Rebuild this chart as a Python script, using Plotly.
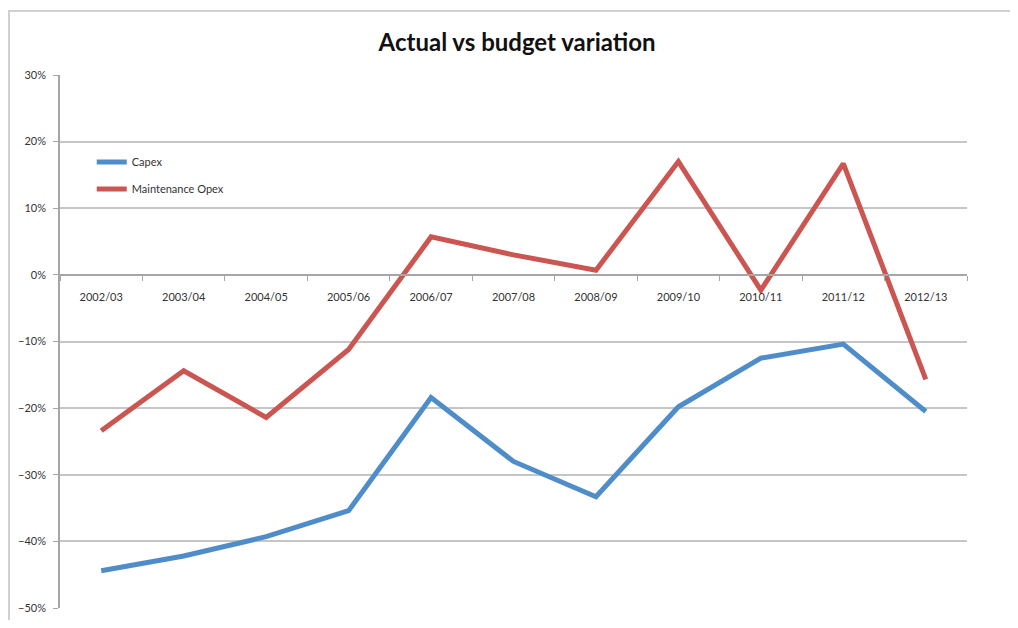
import plotly.graph_objects as go

# categories and series (fractions, shown as %)
years = ["2002/03", "2003/04", "2004/05", "2005/06", "2006/07", "2007/08",
         "2008/09", "2009/10", "2010/11", "2011/12", "2012/13"]
capex = [-0.444, -0.422, -0.393, -0.354, -0.184, -0.280,
         -0.333, -0.198, -0.125, -0.104, -0.205]
maint_opex = [-0.234, -0.144, -0.214, -0.112, 0.057, 0.030,
              0.007, 0.170, -0.023, 0.167, -0.157]

y_ticks = [-0.5, -0.4, -0.3, -0.2, -0.1, 0.0, 0.1, 0.2, 0.3]

BLUE = "#4F8DCA"
RED = "#CB5550"
GRID = "#C6C6C6"
FONT = "Lato, Liberation Sans, sans-serif"

fig = go.Figure()

fig.add_trace(go.Scatter(x=years, y=capex, name="Capex", mode="lines",
                         line=dict(color=BLUE, width=5),
                         legendgroup="a"))
fig.add_trace(go.Scatter(x=years, y=maint_opex, name="Maintenance Opex",
                         mode="lines", line=dict(color=RED, width=5),
                         legendgroup="b"))

# grey frame around the chart (runs off the page right/bottom)
fig.add_shape(type="rect", xref="paper", yref="paper",
              x0=-0.0562, x1=1.2, y0=-0.2, y1=1.12,
              line=dict(color="#D0D0D0", width=2), fillcolor="rgba(0,0,0,0)",
              layer="below")

fig.update_layout(
    width=1002, height=612,
    margin=dict(l=52, r=43, t=67, b=6),
    paper_bgcolor="white", plot_bgcolor="white",
    font=dict(family=FONT, size=11, color="#333333"),
    title=dict(text="<b>Actual vs budget variation</b>",
               x=0.504, xref="paper", xanchor="center",
               y=1 - 35 / 612, yref="container", yanchor="middle",
               font=dict(family=FONT, size=24, color="#111111")),
    showlegend=True,
    legend=dict(x=0.035, y=0.864, xanchor="left", yanchor="top",
                bgcolor="rgba(0,0,0,0)", traceorder="grouped",
                tracegroupgap=8, itemwidth=30,
                font=dict(family=FONT, size=11, color="#333333")),
    xaxis=dict(type="category", range=[-0.5, 10.5],
               anchor="free", position=0.625,
               showline=True, linecolor="#A6A6A6", linewidth=1.5,
               ticks="outside", tickson="boundaries", ticklen=5,
               tickcolor="#A6A6A6", showgrid=False,
               ticklabelstandoff=12,
               tickfont=dict(family=FONT, size=11, color="#333333")),
    yaxis=dict(range=[-0.5, 0.3], tickvals=y_ticks, tickformat=".0%",
               showline=True, linecolor="#A6A6A6", linewidth=1.5,
               ticks="outside", ticklen=5, tickcolor="#A6A6A6",
               showgrid=True, gridcolor=GRID, gridwidth=1.5,
               zeroline=False, ticklabelstandoff=5,
               tickfont=dict(family=FONT, size=11, color="#333333")),
)

fig.write_html("out.html")
